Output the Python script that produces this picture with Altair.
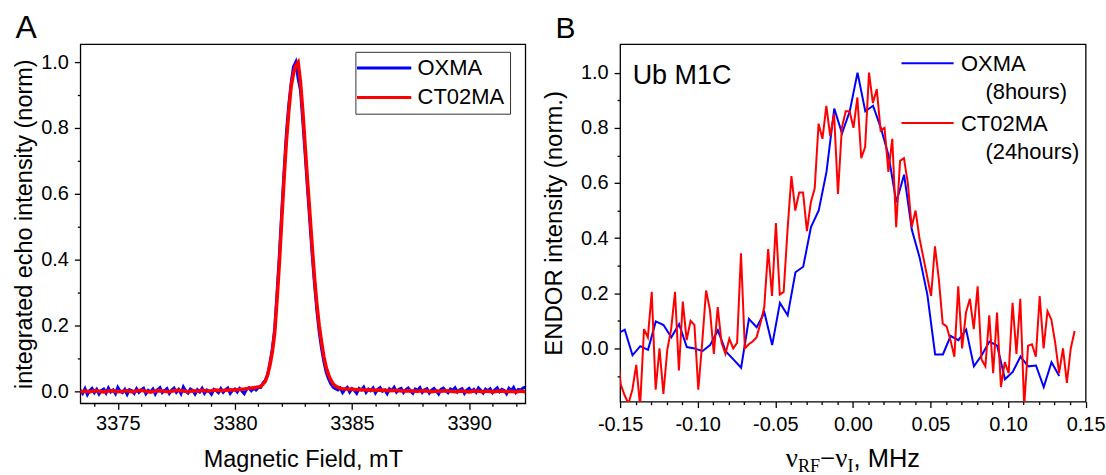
import altair as alt
import numpy as np
import pandas as pd

FONT = "Liberation Sans"
SERIF = "Liberation Serif"

# ---------------- Panel A : field-swept echo ----------------
A_SERIES = ["OXMA", "CT02MA"]
A_COLORS = ["#0000ff", "#ff0000"]

# OXMA, sampled every 0.1 mT from 3373.4 mT
A_OXMA_START, A_OXMA_STEP = 3373.4, 0.1
A_OXMA_LEFT = [
    0.004, -0.006, 0.008, -0.010, 0.002, 0.009, -0.004, 0.006, -0.008, 0.003,
    0.007, -0.005, 0.010, -0.002, 0.004, -0.007, 0.012, 0.000, -0.004, 0.006,
    -0.009, 0.005, 0.002, -0.006, 0.008, -0.003, 0.004, 0.009, -0.007, 0.003,
    -0.002, 0.007, -0.008, 0.005, 0.011, -0.004, 0.002, 0.008, -0.006, 0.004,
    0.010, -0.003, 0.006, -0.007, 0.013, 0.001, -0.005, 0.007, 0.003, -0.008,
    0.005, -0.002, 0.009, -0.006, 0.004, 0.000, -0.009, 0.006, 0.002, -0.004,
    0.008, -0.003, 0.005, 0.010, -0.006, 0.003, 0.007, -0.002, 0.009, 0.001,
    -0.007, 0.006, 0.011, 0.002, 0.009, 0.004, 0.012]
A_OXMA_PEAK = [
    0.012, 0.025, 0.034, 0.052, 0.088, 0.13, 0.19, 0.30, 0.415, 0.545,
    0.67, 0.785, 0.87, 0.935, 0.985, 1.0, 0.95, 0.915, 0.82, 0.72,
    0.615, 0.515, 0.415, 0.325, 0.245, 0.18, 0.13, 0.09, 0.058, 0.038,
    0.022, 0.012, 0.008, 0.004]
A_OXMA_RIGHT = [
    0.010, -0.004, 0.006, 0.012, -0.002, 0.008, 0.003, -0.006, 0.009, 0.004,
    0.013, -0.003, 0.007, 0.002, 0.010, -0.005, 0.006, 0.011, 0.000, 0.004,
    -0.007, 0.008, 0.003, 0.012, -0.002, 0.006, 0.009, -0.004, 0.005, 0.010,
    0.001, -0.006, 0.007, 0.003, 0.011, -0.003, 0.005, 0.008, -0.005, 0.004,
    0.009, 0.001, -0.008, 0.006, 0.010, 0.002, -0.004, 0.007, 0.003, 0.011,
    -0.002, 0.005, 0.008, -0.006, 0.004, 0.009, 0.000, 0.006, -0.003, 0.010,
    0.003, -0.005, 0.007, 0.002, 0.008, -0.004, 0.005, 0.011, -0.001, 0.006,
    0.003, -0.007, 0.009, 0.002, 0.012, -0.003, 0.006, 0.004, 0.010, 0.013]

# CT02MA: baseline every 0.2 mT, peak every 0.1 mT
A_CT_LEFT_START, A_CT_LEFT_STEP = 3373.4, 0.2
A_CT_LEFT = [
    -0.002, 0.001, -0.001, 0.002, 0.000, -0.002, 0.001, 0.002, -0.001, 0.000,
    0.002, -0.001, 0.001, 0.003, 0.000, -0.002, 0.001, 0.002, 0.000, -0.001,
    0.002, 0.003, 0.001, -0.001, 0.002, 0.000, 0.003, 0.001, 0.002, 0.004,
    0.002, 0.003, 0.005, 0.004, 0.006, 0.007, 0.009, 0.011, 0.013]
A_CT_PEAK_START, A_CT_PEAK_STEP = 3381.1, 0.1
A_CT_PEAK = [
    0.015, 0.022, 0.03, 0.05, 0.08, 0.12, 0.178, 0.279, 0.39, 0.52,
    0.645, 0.76, 0.85, 0.925, 0.965, 0.99, 1.0, 0.94, 0.85, 0.745,
    0.64, 0.542, 0.44, 0.345, 0.265, 0.2, 0.15, 0.105, 0.072, 0.05,
    0.034, 0.022, 0.016, 0.012, 0.009]
A_CT_RIGHT_START, A_CT_RIGHT_STEP = 3384.6, 0.2
A_CT_RIGHT = [
    0.008, 0.007, 0.006, 0.005, 0.005, 0.004, 0.004, 0.003, 0.004, 0.003,
    0.002, 0.003, 0.002, 0.001, 0.002, 0.001, 0.000, 0.002, 0.001, -0.001,
    0.001, 0.000, 0.002, 0.000, -0.001, 0.001, 0.000, -0.002, 0.001, 0.000,
    -0.001, 0.001, -0.002, 0.000, 0.001, -0.001, 0.000, -0.002, 0.001, -0.001]

A_X_MAJOR = [3375, 3380, 3385, 3390]
A_X_MINOR = [3374, 3376, 3377, 3378, 3379, 3381, 3382, 3383, 3384,
             3386, 3387, 3388, 3389, 3391, 3392]
A_Y_MAJOR = [0.0, 0.2, 0.4, 0.6, 0.8, 1.0]
A_Y_MINOR = [0.1, 0.3, 0.5, 0.7, 0.9]

# ---------------- Panel B : ENDOR ----------------
B_SERIES = ["OXMA", "CT02MA"]
B_SUBLABELS = ["(8hours)", "(24hours)"]
B_COLORS = ["#0000ff", "#ff0000"]

B_OXMA_START, B_OXMA_STEP = -0.152, 0.005
B_OXMA = [
    0.052, 0.068, -0.025, 0.008, -0.005, 0.098, 0.085, 0.04, 0.088, 0.005,
    0.0, -0.01, 0.012, 0.066, -0.01, -0.04, -0.07, 0.107, 0.077, 0.13,
    0.012, 0.165, 0.12, 0.276, 0.296, 0.44, 0.50, 0.64, 0.87, 0.78,
    0.86, 1.0, 0.86, 0.88, 0.80, 0.70, 0.53, 0.63, 0.43, 0.33,
    0.195, -0.022, -0.022, 0.045, 0.03, 0.068, -0.065, -0.025, 0.025, 0.01,
    -0.112, -0.085, -0.03, -0.065, -0.062, -0.14, -0.05, -0.10]

B_CT_START, B_CT_STEP = -0.1521, 0.0025
B_CT = [
    0.02,
    -0.13, -0.17, -0.20, -0.15, -0.06, -0.21, 0.07, 0.04, 0.205, -0.15,
    0.0, -0.165, -0.005, 0.07, 0.205, -0.08, 0.17, 0.03, 0.10, 0.085,
    -0.15, 0.02, 0.21, 0.14, -0.02, 0.15, 0.02, -0.02, 0.035, 0.0,
    0.02, 0.345, 0.0, 0.015, 0.025, 0.04, 0.09, 0.15, 0.36, 0.19,
    0.455, 0.195, 0.205, 0.43, 0.625, 0.50, 0.565, 0.565, 0.425, 0.53,
    0.58, 0.815, 0.76, 0.88, 0.77, 0.85, 0.56, 0.80, 0.86, 0.86,
    0.80, 0.91, 0.69, 0.73, 1.0, 0.89, 0.94, 0.79, 0.80, 0.64,
    0.76, 0.44, 0.68, 0.69, 0.60, 0.44, 0.50, 0.40, 0.33, 0.26,
    0.19, 0.37, 0.25, 0.09, 0.08, 0.03, -0.03, 0.225, 0.0, 0.13,
    0.18, 0.07, 0.225, -0.04, -0.065, 0.12, -0.09, 0.13, -0.14, -0.05,
    -0.09, 0.165, -0.02, 0.18, -0.21, 0.01, 0.015, -0.03, 0.19, 0.0,
    0.135, 0.105, 0.02, -0.09, 0.0, -0.125, 0.0, 0.063]

B_X_MAJOR = [-0.15, -0.10, -0.05, 0.0, 0.05, 0.10, 0.15]
B_X_MINOR = [-0.14, -0.13, -0.12, -0.11, -0.09, -0.08, -0.07, -0.06,
             -0.04, -0.03, -0.02, -0.01, 0.01, 0.02, 0.03, 0.04,
             0.06, 0.07, 0.08, 0.09, 0.11, 0.12, 0.13, 0.14]
B_Y_MAJOR = [0.0, 0.2, 0.4, 0.6, 0.8, 1.0]
B_Y_MINOR = [-0.1, 0.1, 0.3, 0.5, 0.7, 0.9]

B_XTITLE = ["\u03bd", "RF", "\u2212\u03bd", "I", ", MHz"]


def grid(start, step, values):
    return np.round(start + step * np.arange(len(values)), 5)


# ---------------- build panel A ----------------
a_blue = pd.DataFrame({
    "field": grid(A_OXMA_START, A_OXMA_STEP, A_OXMA_LEFT + A_OXMA_PEAK + A_OXMA_RIGHT),
    "intensity": A_OXMA_LEFT + A_OXMA_PEAK + A_OXMA_RIGHT,
    "sample": A_SERIES[0]})
a_red = pd.DataFrame({
    "field": np.concatenate([grid(A_CT_LEFT_START, A_CT_LEFT_STEP, A_CT_LEFT),
                             grid(A_CT_PEAK_START, A_CT_PEAK_STEP, A_CT_PEAK),
                             grid(A_CT_RIGHT_START, A_CT_RIGHT_STEP, A_CT_RIGHT)]),
    "intensity": A_CT_LEFT + A_CT_PEAK + A_CT_RIGHT,
    "sample": A_SERIES[1]})

a_xscale = alt.Scale(domain=[3373.4, 3392.4], nice=False, zero=False)
a_yscale = alt.Scale(domain=[-0.0364, 1.0546], nice=False, zero=False)
a_legend = alt.Legend(orient="none", legendX=275.7, legendY=7.7, title=None,
                      labelFontSize=22, labelFont=FONT, labelColor="black",
                      symbolType="M-2.94,0H7.94", symbolSize=100, symbolStrokeWidth=3,
                      labelOffset=35, rowPadding=7.4, padding=5.3,
                      strokeColor="#333333", fillColor="white")
a_color = alt.Color("sample:N", scale=alt.Scale(domain=A_SERIES, range=A_COLORS), legend=a_legend)

a_x_major = alt.X("field:Q", scale=a_xscale,
                  axis=alt.Axis(values=A_X_MAJOR, format="d", title="Magnetic Field, mT",
                                tickSize=6, labelPadding=4, titlePadding=14.5,
                                labelFontSize=20, titleFontSize=23.5))
a_x_minor = alt.X("field:Q", scale=a_xscale,
                  axis=alt.Axis(values=A_X_MINOR, orient="bottom", labels=False,
                                tickSize=3, title=None))
a_y_major = alt.Y("intensity:Q", scale=a_yscale,
                  axis=alt.Axis(values=A_Y_MAJOR, format=".1f",
                                title="integrated echo intensity (norm)",
                                tickSize=6, labelPadding=6, titlePadding=3.7,
                                labelFontSize=20, titleFontSize=23.5))
a_y_minor = alt.Y("intensity:Q", scale=a_yscale,
                  axis=alt.Axis(values=A_Y_MINOR, orient="left", labels=False,
                                tickSize=3, title=None))

a_line_blue = alt.Chart(a_blue).mark_line(strokeWidth=3, clip=True).encode(
    x=a_x_major, y=a_y_major, color=a_color)
a_line_red = alt.Chart(a_red).mark_line(strokeWidth=3.5, clip=True).encode(
    x=a_x_minor, y=a_y_minor, color=a_color)
a_letter = alt.Chart(pd.DataFrame({"t": ["A"]})).mark_text(
    align="left", baseline="alphabetic", fontSize=32, font=FONT, color="black").encode(
    text="t:N", x=alt.value(-65), y=alt.value(-5.8))

panel_a = alt.layer(a_line_blue, a_line_red, a_letter).resolve_axis(
    x="independent", y="independent").properties(width=446, height=360)

# ---------------- build panel B ----------------
b_blue = pd.DataFrame({"freq": grid(B_OXMA_START, B_OXMA_STEP, B_OXMA),
                       "endor": B_OXMA, "sample": B_SERIES[0]})
b_red = pd.DataFrame({"freq": grid(B_CT_START, B_CT_STEP, B_CT),
                      "endor": B_CT, "sample": B_SERIES[1]})

b_xscale = alt.Scale(domain=[-0.15, 0.15], nice=False, zero=False)
b_yscale = alt.Scale(domain=[-0.193, 1.1035], nice=False, zero=False)
# zero-width space keeps the indent from being trimmed
pad = "\u200b\u00a0\u00a0\u00a0\u00a0"
b_label_expr = (f"datum.label == '{B_SERIES[0]}' ? ['{B_SERIES[0]}', '{pad}{B_SUBLABELS[0]}']"
                f" : ['{B_SERIES[1]}', '{pad}{B_SUBLABELS[1]}']")
b_legend = alt.Legend(orient="none", legendX=282.0, legendY=-1.0, title=None,
                      labelFontSize=22, labelFont=FONT, labelColor="black",
                      labelBaseline="top", labelExpr=b_label_expr, labelLimit=300,
                      symbolType="M-2.2,1.82H8.26", symbolSize=100, symbolStrokeWidth=2,
                      labelOffset=37.7, rowPadding=0, padding=0)
b_color = alt.Color("sample:N", scale=alt.Scale(domain=B_SERIES, range=B_COLORS), legend=b_legend)

b_x_major = alt.X("freq:Q", scale=b_xscale,
                  axis=alt.Axis(values=B_X_MAJOR, format=".2f", title=None,
                                labelExpr="replace(datum.label, '\u2212', '-')",
                                labelFlush=False,
                                tickSize=6, labelPadding=7, labelFontSize=20))
b_x_minor = alt.X("freq:Q", scale=b_xscale,
                  axis=alt.Axis(values=B_X_MINOR, orient="bottom", labels=False,
                                tickSize=3, title=None))
b_y_major = alt.Y("endor:Q", scale=b_yscale,
                  axis=alt.Axis(values=B_Y_MAJOR, format=".1f",
                                title="ENDOR intensity (norm.)",
                                tickSize=6, labelPadding=6, titlePadding=14.2,
                                labelFontSize=20, titleFontSize=24))
b_y_minor = alt.Y("endor:Q", scale=b_yscale,
                  axis=alt.Axis(values=B_Y_MINOR, orient="left", labels=False,
                                tickSize=3, title=None))

b_line_blue = alt.Chart(b_blue).mark_line(strokeWidth=2, clip=True).encode(
    x=b_x_major, y=b_y_major, color=b_color)
b_line_red = alt.Chart(b_red).mark_line(strokeWidth=2, clip=True).encode(
    x=b_x_minor, y=b_y_minor, color=b_color)


def label_layer(text, x, y, size, font=FONT):
    return alt.Chart(pd.DataFrame({"t": [text]})).mark_text(
        align="left", baseline="alphabetic", fontSize=size, font=font, color="black").encode(
        text="t:N", x=alt.value(x), y=alt.value(y))


b_letter = label_layer("B", -64.7, -5.8, 30)
b_sample = label_layer("Ub M1C", 12.6, 40.3, 27)
b_title_parts = [
    label_layer(B_XTITLE[0], 166, 423.5, 27, SERIF),
    label_layer(B_XTITLE[1], 178.4, 429, 18, SERIF),
    label_layer(B_XTITLE[2], 200.4, 423.5, 27, SERIF),
    label_layer(B_XTITLE[3], 228, 429, 18, SERIF),
    label_layer(B_XTITLE[4], 234, 423.5, 25.5, FONT),
]

panel_b = alt.layer(b_line_blue, b_line_red, b_letter, b_sample, *b_title_parts).resolve_axis(
    x="independent", y="independent").properties(width=466.6, height=358.3)

chart = alt.hconcat(panel_a, panel_b, spacing=15).resolve_scale(color="independent").properties(
    padding={"left": 11.5, "top": 10.7, "right": 0, "bottom": 0})
chart = chart.configure(style={"guide-label": {"lineHeight": 28}})
chart = chart.configure_view(stroke="black", strokeWidth=1.3).configure_axis(
    labelFont=FONT, titleFont=FONT, labelColor="black", titleColor="black",
    tickColor="black", tickWidth=1.3, domain=False, grid=False,
    titleFontWeight="normal").configure_legend(labelFont=FONT, labelColor="black")

chart.save("out.html", embed_options={"renderer": "svg", "actions": False})
